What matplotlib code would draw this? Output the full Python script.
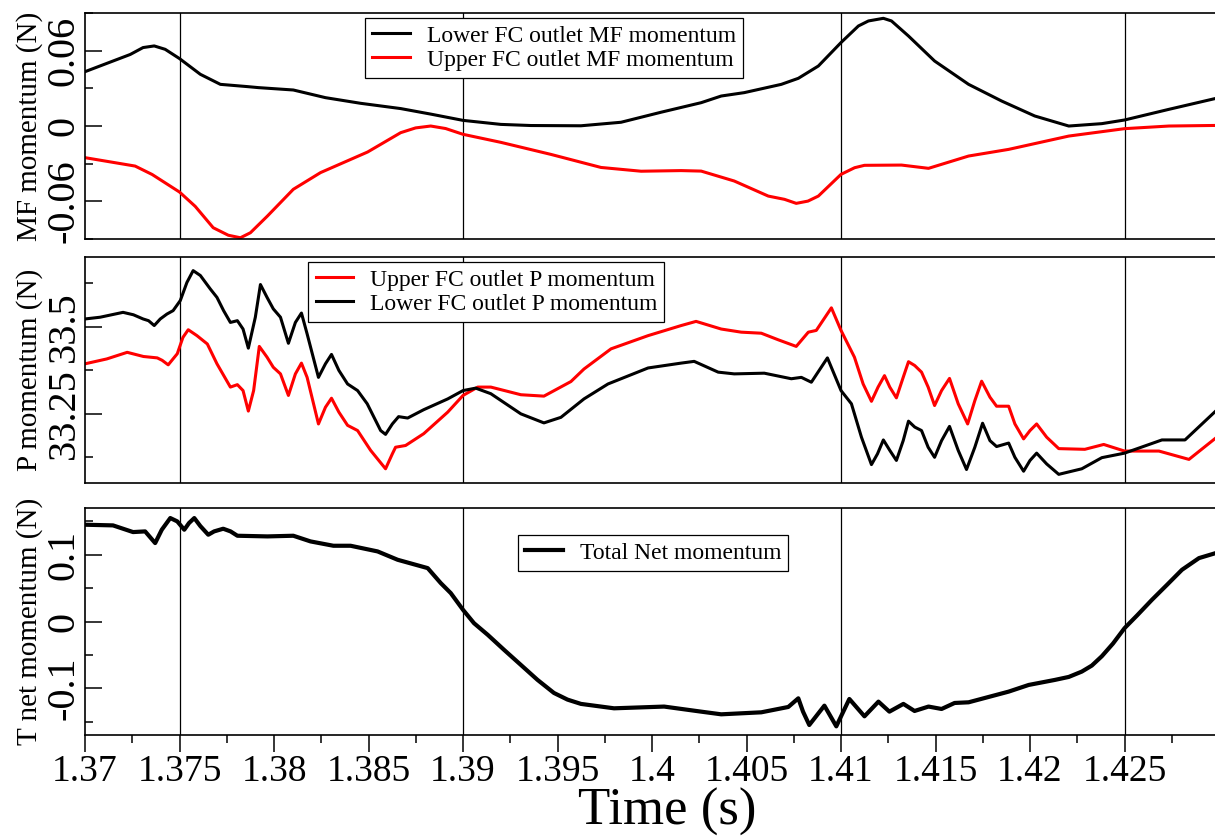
import numpy as np
import matplotlib.pyplot as plt
from matplotlib.ticker import MultipleLocator, FormatStrFormatter

plt.rcParams['font.family'] = 'Liberation Serif'
plt.rcParams['axes.unicode_minus'] = False
plt.rcParams['ytick.alignment'] = 'center'

# momentum flux (MF) through the lower / upper flow channel outlets
t_mf_lower = [1.37000, 1.37239, 1.37307, 1.37366, 1.37424, 1.37500, 1.37610, 1.37716,
              1.37859, 1.37917, 1.38102, 1.38272, 1.38458, 1.38670, 1.38829, 1.39000,
              1.39200, 1.39359, 1.39624, 1.39836, 1.40048, 1.40260, 1.40366, 1.40488,
              1.40684, 1.40774, 1.40880, 1.41000, 1.41092, 1.41145, 1.41224, 1.41267,
              1.41357, 1.41495, 1.41675, 1.41850, 1.42025, 1.42205, 1.42380, 1.42500,
              1.42735, 1.43000]
mf_lower = [0.0433, 0.0570, 0.0625, 0.0638, 0.0611, 0.0537, 0.0412, 0.0332,
            0.0314, 0.0306, 0.0287, 0.0226, 0.0181, 0.0139, 0.0095, 0.0045,
            0.0013, 0.0004, 0.0002, 0.0030, 0.0110, 0.0186, 0.0239, 0.0266,
            0.0332, 0.0380, 0.0478, 0.0665, 0.0797, 0.0837, 0.0858, 0.0837,
            0.0717, 0.0518, 0.0332, 0.0199, 0.0080, 0.0000, 0.0019, 0.0048,
            0.0133, 0.0226]

t_mf_upper = [1.37000, 1.37265, 1.37355, 1.37500, 1.37583, 1.37678, 1.37758, 1.37822,
              1.37875, 1.37965, 1.38102, 1.38246, 1.38495, 1.38670, 1.38749, 1.38829,
              1.38908, 1.39000, 1.39200, 1.39465, 1.39730, 1.39942, 1.40154, 1.40260,
              1.40435, 1.40615, 1.40701, 1.40763, 1.40825, 1.40880, 1.41000, 1.41072,
              1.41124, 1.41320, 1.41463, 1.41675, 1.41887, 1.42205, 1.42500, 1.42735,
              1.43000]
mf_upper = [-0.0252, -0.0319, -0.0386, -0.0526, -0.0640, -0.0810, -0.0870, -0.0890,
            -0.0850, -0.0717, -0.0504, -0.0371, -0.0207, -0.0053, -0.0015, 0.0000,
            -0.0020, -0.0066, -0.0130, -0.0226, -0.0330, -0.0360, -0.0355, -0.0359,
            -0.0438, -0.0558, -0.0584, -0.0616, -0.0598, -0.0558, -0.0385, -0.0332,
            -0.0313, -0.0311, -0.0337, -0.0239, -0.0186, -0.0080, -0.0021, 0.0000,
            0.0005]

# pressure (P) momentum at the same outlets
t_p_lower = [1.37000, 1.37080, 1.37201, 1.37256, 1.37307, 1.37336, 1.37366, 1.37398,
             1.37433, 1.37466, 1.37504, 1.37539, 1.37572, 1.37610, 1.37663, 1.37698,
             1.37733, 1.37769, 1.37806, 1.37836, 1.37864, 1.37901, 1.37928, 1.37963,
             1.37996, 1.38034, 1.38076, 1.38113, 1.38145, 1.38175, 1.38235, 1.38272,
             1.38304, 1.38343, 1.38389, 1.38442, 1.38493, 1.38564, 1.38590, 1.38626,
             1.38659, 1.38707, 1.38792, 1.38919, 1.39000, 1.39067, 1.39147, 1.39306,
             1.39428, 1.39518, 1.39640, 1.39767, 1.39979, 1.40154, 1.40223, 1.40350,
             1.40435, 1.40594, 1.40737, 1.40790, 1.40843, 1.40928, 1.41000, 1.41055,
             1.41108, 1.41161, 1.41193, 1.41224, 1.41258, 1.41293, 1.41329, 1.41357,
             1.41390, 1.41426, 1.41461, 1.41495, 1.41532, 1.41574, 1.41620, 1.41664,
             1.41708, 1.41749, 1.41788, 1.41823, 1.41887, 1.41920, 1.41966, 1.42000,
             1.42035, 1.42088, 1.42152, 1.42274, 1.42380, 1.42500, 1.42698, 1.42820,
             1.42910, 1.43000]
p_lower = [33.522, 33.527, 33.541, 33.534, 33.522, 33.517, 33.503, 33.522,
           33.536, 33.546, 33.575, 33.627, 33.661, 33.647, 33.608, 33.584,
           33.546, 33.512, 33.517, 33.493, 33.438, 33.527, 33.621, 33.584,
           33.551, 33.527, 33.452, 33.512, 33.539, 33.479, 33.354, 33.393,
           33.420, 33.374, 33.335, 33.316, 33.278, 33.201, 33.190, 33.220,
           33.241, 33.237, 33.261, 33.292, 33.316, 33.323, 33.307, 33.249,
           33.223, 33.239, 33.292, 33.335, 33.381, 33.395, 33.400, 33.369,
           33.364, 33.366, 33.350, 33.354, 33.340, 33.410, 33.316, 33.278,
           33.182, 33.103, 33.134, 33.174, 33.144, 33.115, 33.172, 33.228,
           33.211, 33.201, 33.153, 33.124, 33.172, 33.213, 33.144, 33.089,
           33.153, 33.222, 33.172, 33.155, 33.165, 33.124, 33.084, 33.115,
           33.136, 33.105, 33.075, 33.091, 33.123, 33.136, 33.174, 33.174,
           33.220, 33.266]

t_p_upper = [1.37000, 1.37115, 1.37223, 1.37309, 1.37382, 1.37408, 1.37440, 1.37488,
             1.37518, 1.37546, 1.37592, 1.37647, 1.37698, 1.37769, 1.37806, 1.37836,
             1.37864, 1.37892, 1.37922, 1.37963, 1.37996, 1.38034, 1.38076, 1.38113,
             1.38145, 1.38175, 1.38235, 1.38272, 1.38304, 1.38343, 1.38389, 1.38442,
             1.38511, 1.38590, 1.38626, 1.38643, 1.38696, 1.38792, 1.38919, 1.39000,
             1.39078, 1.39147, 1.39306, 1.39428, 1.39571, 1.39640, 1.39783, 1.39979,
             1.40154, 1.40233, 1.40366, 1.40472, 1.40578, 1.40668, 1.40763, 1.40827,
             1.40869, 1.40949, 1.41000, 1.41071, 1.41117, 1.41161, 1.41196, 1.41230,
             1.41258, 1.41293, 1.41329, 1.41357, 1.41390, 1.41426, 1.41461, 1.41495,
             1.41532, 1.41574, 1.41620, 1.41670, 1.41708, 1.41744, 1.41788, 1.41823,
             1.41887, 1.41920, 1.41966, 1.42000, 1.42035, 1.42088, 1.42152, 1.42290,
             1.42390, 1.42500, 1.42682, 1.42841, 1.43000]
p_upper = [33.393, 33.407, 33.426, 33.414, 33.410, 33.403, 33.390, 33.422,
           33.469, 33.491, 33.474, 33.450, 33.393, 33.326, 33.333, 33.316,
           33.257, 33.316, 33.443, 33.412, 33.383, 33.364, 33.302, 33.364,
           33.395, 33.354, 33.220, 33.268, 33.294, 33.254, 33.216, 33.201,
           33.144, 33.091, 33.134, 33.153, 33.158, 33.192, 33.254, 33.302,
           33.326, 33.326, 33.304, 33.300, 33.342, 33.378, 33.436, 33.474,
           33.503, 33.515, 33.493, 33.484, 33.481, 33.462, 33.443, 33.484,
           33.489, 33.554, 33.489, 33.412, 33.335, 33.285, 33.326, 33.359,
           33.326, 33.295, 33.354, 33.399, 33.388, 33.369, 33.326, 33.273,
           33.316, 33.351, 33.278, 33.220, 33.287, 33.343, 33.297, 33.271,
           33.271, 33.220, 33.177, 33.201, 33.220, 33.182, 33.149, 33.147,
           33.161, 33.142, 33.142, 33.118, 33.187]

# total net momentum
t_net = [1.37000, 1.37148, 1.37254, 1.37318, 1.37371, 1.37406, 1.37451, 1.37488,
         1.37525, 1.37550, 1.37578, 1.37610, 1.37652, 1.37683, 1.37731, 1.37770,
         1.37806, 1.37965, 1.38102, 1.38193, 1.38314, 1.38405, 1.38548, 1.38654,
         1.38813, 1.38882, 1.38935, 1.39000, 1.39058, 1.39131, 1.39217, 1.39306,
         1.39394, 1.39481, 1.39553, 1.39624, 1.39799, 1.40064, 1.40260, 1.40366,
         1.40578, 1.40721, 1.40774, 1.40799, 1.40832, 1.40912, 1.40975, 1.41044,
         1.41124, 1.41198, 1.41256, 1.41330, 1.41389, 1.41463, 1.41532, 1.41601,
         1.41675, 1.41781, 1.41887, 1.41993, 1.42131, 1.42205, 1.42274, 1.42327,
         1.42380, 1.42439, 1.42500, 1.42566, 1.42645, 1.42725, 1.42804, 1.42894,
         1.43000]
net = [0.145, 0.144, 0.134, 0.135, 0.1175, 0.1375, 0.155, 0.150,
       0.1375, 0.1475, 0.155, 0.143, 0.130, 0.135, 0.139, 0.135,
       0.1285, 0.1275, 0.1285, 0.120, 0.1135, 0.1135, 0.105, 0.0925,
       0.080, 0.0576, 0.0426, 0.0175, -0.0025, -0.020, -0.0424, -0.065,
       -0.0874, -0.107, -0.117, -0.1234, -0.130, -0.1274, -0.135, -0.139,
       -0.136, -0.128, -0.115, -0.135, -0.155, -0.126, -0.157, -0.116,
       -0.142, -0.120, -0.135, -0.1234, -0.134, -0.1274, -0.131, -0.122,
       -0.121, -0.113, -0.105, -0.095, -0.0875, -0.083, -0.075, -0.066,
       -0.052, -0.033, -0.010, 0.009, 0.0325, 0.055, 0.0775, 0.095,
       0.104]

event_times = [1.375, 1.39, 1.41, 1.425]
xticks = [1.37, 1.375, 1.38, 1.385, 1.39, 1.395, 1.4, 1.405, 1.41, 1.415, 1.42, 1.425]

fig = plt.figure(figsize=(12.15, 8.36), dpi=100)
ax1 = fig.add_axes([0.0700, 0.7141, 0.9333, 0.2703])
ax2 = fig.add_axes([0.0700, 0.4222, 0.9333, 0.2703])
ax3 = fig.add_axes([0.0700, 0.1208, 0.9333, 0.2715])

ax1.plot(t_mf_lower, mf_lower, color='black', lw=2.2, label='Lower FC outlet MF momentum')
ax1.plot(t_mf_upper, mf_upper, color='red', lw=2.2, label='Upper FC outlet MF momentum')
ax1.set_ylim(-0.09, 0.09)
ax1.yaxis.set_major_locator(MultipleLocator(0.06))
ax1.yaxis.set_minor_locator(MultipleLocator(0.03))
ax1.set_ylabel('MF momentum (N)', fontsize=21)

ax2.plot(t_p_upper, p_upper, color='red', lw=2.2, label='Upper FC outlet P momentum')
ax2.plot(t_p_lower, p_lower, color='black', lw=2.2, label='Lower FC outlet P momentum')
ax2.set_ylim(33.05, 33.70)
ax2.set_yticks([33.25, 33.5])
ax2.set_yticks([33.125, 33.375, 33.625], minor=True)
ax2.set_ylabel('P momentum (N)', fontsize=21)

ax3.plot(t_net, net, color='black', lw=3.0, label='Total Net momentum')
ax3.set_ylim(-0.17, 0.17)
ax3.yaxis.set_major_locator(MultipleLocator(0.1))
ax3.yaxis.set_minor_locator(MultipleLocator(0.05))
ax3.set_ylabel('T net momentum (N)', fontsize=21)
ax3.set_xlabel('Time (s)', fontsize=38)
ax3.xaxis.set_label_coords(0.513, -0.232)

legend_spots = [(ax1, (0.247, 0.978)), (ax2, (0.197, 0.978)), (ax3, (0.382, 0.881))]
for ax, spot in legend_spots:
    leg = ax.legend(loc='upper left', bbox_to_anchor=spot, fontsize=17, fancybox=False,
                    edgecolor='black', framealpha=1, borderaxespad=0, handlelength=1.6,
                    handletextpad=0.7, labelspacing=0.1, borderpad=0.3)
    leg.get_frame().set_linewidth(0.9)

for ax in (ax1, ax2, ax3):
    for line in ax.get_lines():
        line.set_solid_joinstyle('round')
    for t in event_times:
        ax.axvline(t, color='black', lw=0.9, zorder=1)
    ax.set_xlim(1.37, 1.43)
    ax.set_xticks(xticks)
    ax.xaxis.set_minor_locator(MultipleLocator(0.0025))
    ax.xaxis.set_major_formatter(FormatStrFormatter('%g'))
    ax.yaxis.set_major_formatter(FormatStrFormatter('%g'))
    ax.tick_params(axis='y', which='major', direction='in', length=12, width=1.1,
                   labelsize=29, labelrotation=90, pad=1.5)
    ax.tick_params(axis='y', which='minor', direction='in', length=6, width=1.1)
    ax.yaxis.set_label_coords(-0.037, 0.5)
    for s in ax.spines.values():
        s.set_linewidth(1.2)

for ax in (ax1, ax2):
    ax.tick_params(axis='x', which='both', bottom=False, labelbottom=False)
ax3.tick_params(axis='x', which='major', direction='out', length=12, width=1.1,
                labelsize=27, pad=2)
ax3.tick_params(axis='x', which='minor', direction='out', length=6, width=1.1)

plt.savefig('out.png', dpi=100)
